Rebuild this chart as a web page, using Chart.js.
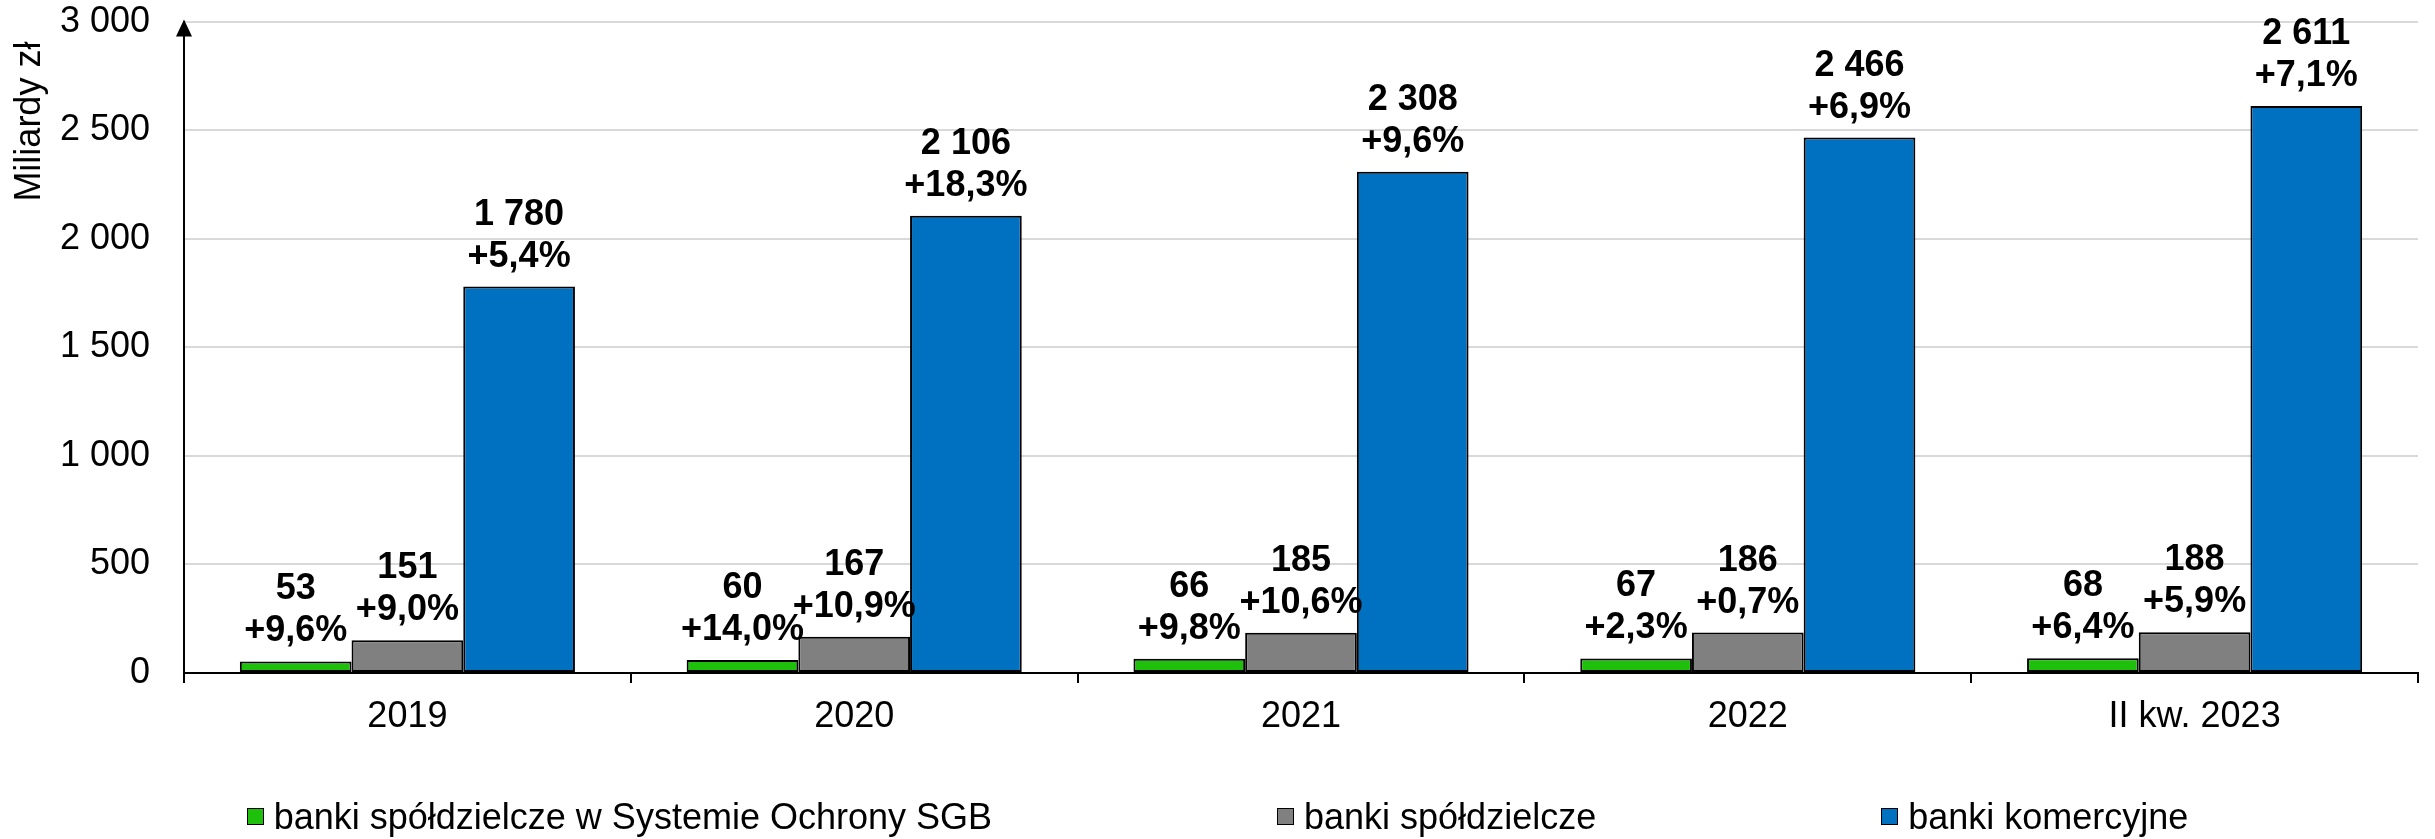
<!DOCTYPE html>
<html>
<head>
    <title>Banki - aktywa</title>
    <script src="https://cdn.jsdelivr.net/npm/chart.js@4.4.0/dist/chart.umd.min.js"></script>
    <style>
        body { margin: 0; background: #fff; font-family: "Liberation Sans", Arial, sans-serif; }
        #wrap { position: relative; width: 2435px; height: 839px; }
        #legend { position: absolute; left: 0; top: 795px; width: 100%; display: flex; justify-content: center; gap: 285px; font-size: 36px; line-height: 43px; color: #000; }
        #legend .item { display: flex; align-items: center; }
        #legend .box { width: 15px; height: 15px; border: 1.5px solid #000; margin-right: 10px; }
    </style>
</head>
<body>

<div id="wrap">
    <canvas id="banksChart"></canvas>
    <div id="legend"></div>
</div>

<script>
    // categories and series
    var years = ['2019', '2020', '2021', '2022', 'II kw. 2023'];
    var seriesNames = ['banki spółdzielcze w Systemie Ochrony SGB', 'banki spółdzielcze', 'banki komercyjne'];
    var seriesColors = ['#1fc00b', '#808080', '#0070c0'];

    var sgbValues = [53, 60, 66, 67, 68];
    var sgbGrowth = [9.6, 14.0, 9.8, 2.3, 6.4];
    var coopValues = [151, 167, 185, 186, 188];
    var coopGrowth = [9.0, 10.9, 10.6, 0.7, 5.9];
    var commValues = [1780, 2106, 2308, 2466, 2611];
    var commGrowth = [5.4, 18.3, 9.6, 6.9, 7.1];

    var yTicks = [0, 500, 1000, 1500, 2000, 2500, 3000];

    function spaced(v) {
        return String(v).replace(/\B(?=(\d{3})+(?!\d))/g, ' ');
    }
    function pct(v) {
        return '+' + v.toFixed(1).replace('.', ',') + '%';
    }

    Chart.defaults.font.family = '"Liberation Sans", Arial, sans-serif';
    Chart.defaults.font.size = 36;
    Chart.defaults.color = '#000';

    // value + growth labels above each bar
    var barLabels = {
        id: 'barLabels',
        afterDatasetsDraw: function (chart) {
            var ctx = chart.ctx;
            ctx.save();
            ctx.font = 'bold 36px "Liberation Sans", Arial, sans-serif';
            ctx.fillStyle = '#000';
            ctx.textAlign = 'center';
            ctx.textBaseline = 'alphabetic';
            chart.data.datasets.forEach(function (ds, i) {
                chart.getDatasetMeta(i).data.forEach(function (bar, j) {
                    ctx.fillText(spaced(ds.data[j]), bar.x, bar.y - 62);
                    ctx.fillText(pct(ds.growth[j]), bar.x, bar.y - 20);
                });
            });
            ctx.restore();
        }
    };

    // arrow head on top of the y axis
    var axisArrow = {
        id: 'axisArrow',
        afterDraw: function (chart) {
            var ctx = chart.ctx, a = chart.chartArea;
            ctx.save();
            ctx.fillStyle = '#000';
            ctx.beginPath();
            ctx.moveTo(a.left, a.top - 2);
            ctx.lineTo(a.left - 8, a.top + 15);
            ctx.lineTo(a.left + 8, a.top + 15);
            ctx.closePath();
            ctx.fill();
            ctx.restore();
        }
    };

    var ctx = document.getElementById('banksChart').getContext('2d');
    var chart = new Chart(ctx, {
        type: 'bar',
        data: {
            labels: years,
            datasets: [
                { label: seriesNames[0], data: sgbValues, growth: sgbGrowth, backgroundColor: seriesColors[0] },
                { label: seriesNames[1], data: coopValues, growth: coopGrowth, backgroundColor: seriesColors[1] },
                { label: seriesNames[2], data: commValues, growth: commGrowth, backgroundColor: seriesColors[2] }
            ]
        },
        options: {
            responsive: true,
            maintainAspectRatio: false,
            animation: false,
            layout: { padding: { left: 0, top: 0, right: 17, bottom: 96 } },
            datasets: {
                bar: {
                    categoryPercentage: 0.75,
                    barPercentage: 1,
                    borderColor: '#000',
                    borderWidth: 2,
                    borderSkipped: false
                }
            },
            plugins: {
                legend: { display: false },
                tooltip: { enabled: false }
            },
            scales: {
                x: {
                    grid: { display: true, drawOnChartArea: false, drawTicks: true, tickLength: 10, color: '#000', lineWidth: 2, offset: true },
                    border: { color: '#000', width: 2 },
                    ticks: { padding: 12, font: { size: 36 } },
                    afterFit: function (s) { s.height = 70; }
                },
                y: {
                    min: 0,
                    max: 3000,
                    afterBuildTicks: function (s) { s.ticks = yTicks.map(function (v) { return { value: v }; }); },
                    grid: { color: '#d9d9d9', lineWidth: 2, drawTicks: true, tickLength: 34, tickColor: 'rgba(0,0,0,0)' },
                    border: { color: '#000', width: 2 },
                    ticks: { padding: 0, font: { size: 36 }, callback: function (v) { return spaced(v); } },
                    // two trailing no-break spaces nudge the end-aligned title down a little
                    title: { display: true, text: 'Miliardy zł\u00a0\u00a0', align: 'end', font: { size: 36 }, padding: { top: 8, bottom: 0 } },
                    afterFit: function (s) { s.width = 184; }
                }
            }
        },
        plugins: [barLabels, axisArrow]
    });

    // legend below the chart
    var legend = document.getElementById('legend');
    seriesNames.forEach(function (name, i) {
        var item = document.createElement('div');
        item.className = 'item';
        var box = document.createElement('span');
        box.className = 'box';
        box.style.background = seriesColors[i];
        var txt = document.createElement('span');
        txt.textContent = name;
        item.appendChild(box);
        item.appendChild(txt);
        legend.appendChild(item);
    });
</script>
</body>
</html>
